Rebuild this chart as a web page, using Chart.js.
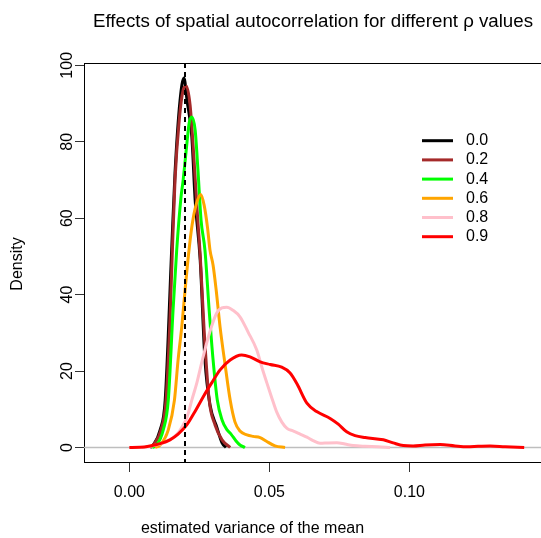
<!DOCTYPE html>
<html>
<head>
<meta charset="utf-8">
<script src="https://cdn.jsdelivr.net/npm/chart.js@4.4.1/dist/chart.umd.min.js"></script>
<style>
  html, body { margin: 0; padding: 0; background: #fff; overflow: hidden; }
  #wrap { width: 541px; height: 538px; }
</style>
</head>
<body>
<div id="wrap"><canvas id="densChart" width="541" height="538"></canvas></div>
<script>
// Données (densités estimées)
const rhoLabels = ['0.0', '0.2', '0.4', '0.6', '0.8', '0.9'];
const rhoColors = ['#000000', '#A52A2A', '#00FF00', '#FFA500', '#FFC0CB', '#FF0000'];

const rho00X = [0.0074, 0.0085, 0.0110, 0.0128, 0.0151, 0.0163, 0.0181, 0.0195, 0.0206, 0.0223, 0.0235, 0.0253, 0.0270, 0.0288, 0.0312, 0.0331, 0.0345];
const rho00Y = [0, 0.65, 4.6, 12.4, 51.6, 71.8, 90.8, 96.7, 90.8, 81.3, 64.7, 49, 22.9, 11.1, 5.4, 1.2, 0];

const rho02X = [0.0074, 0.0088, 0.0113, 0.0131, 0.0145, 0.0153, 0.0163, 0.0178, 0.0192, 0.0203, 0.0217, 0.0231, 0.0242, 0.0253, 0.0267, 0.0285, 0.0306, 0.0331, 0.0360];
const rho02Y = [0, 0.9, 4.6, 12.4, 33.3, 50.3, 69.9, 85.6, 93.5, 94.6, 89.5, 75.2, 62.1, 50.3, 30.7, 12.4, 5.9, 2, 0];

const rho04X = [0.0081, 0.0098, 0.0121, 0.0139, 0.0156, 0.0169, 0.0184, 0.0192, 0.0203, 0.0214, 0.0223, 0.0235, 0.0245, 0.0256, 0.0270, 0.0285, 0.0299, 0.0314, 0.0331, 0.0349, 0.0363, 0.0381, 0.0395, 0.0413];
const rho04Y = [0, 0.65, 4.6, 12.4, 35.9, 51.6, 65.2, 69.9, 77.8, 85.1, 86.5, 83, 72.5, 59.5, 51.6, 35.9, 22.9, 12.4, 7.2, 4.6, 3.5, 1.7, 0.65, 0];

const rho06X = [0.0092, 0.0110, 0.0139, 0.0161, 0.0174, 0.0187, 0.0199, 0.0211, 0.0224, 0.0238, 0.0255, 0.0267, 0.0279, 0.0288, 0.0299, 0.0310, 0.0324, 0.0342, 0.0360, 0.0377, 0.0395, 0.0420, 0.0442, 0.0467, 0.0488, 0.0520, 0.0556];
const rho06Y = [0, 0.65, 4.6, 12.4, 22.9, 31.5, 41.2, 50.3, 58.2, 63.4, 66.2, 63.4, 57.6, 51.6, 47.7, 41.2, 31.5, 21.6, 12.4, 6.7, 4.3, 3.3, 2.9, 2.6, 1.7, 0.4, 0];

const rho08X = [0.0044, 0.0074, 0.0110, 0.0145, 0.0174, 0.0192, 0.0205, 0.0223, 0.0241, 0.0259, 0.0276, 0.0294, 0.0312, 0.0330, 0.0348, 0.0370, 0.0395, 0.0424, 0.0455, 0.0474, 0.0491, 0.0509, 0.0526, 0.0544, 0.0563, 0.0586, 0.0610, 0.0634, 0.0656, 0.0681, 0.0710, 0.0741, 0.0770, 0.0799, 0.0842, 0.0888, 0.0931];
const rho08Y = [0, 0.3, 0.9, 2, 3.8, 5.9, 7.7, 12.4, 16.9, 22.4, 27.3, 31.8, 35.2, 36.5, 36.7, 35.9, 34.2, 30.2, 25.5, 20.8, 16.9, 12.9, 9.3, 6.7, 5, 4.3, 3.5, 2.7, 1.8, 1.1, 1.2, 1.25, 0.9, 0.5, 0.3, 0.2, 0];

const rho09X = [0.0000, 0.0038, 0.0074, 0.0110, 0.0145, 0.0174, 0.0205, 0.0235, 0.0264, 0.0294, 0.0324, 0.0360, 0.0401, 0.0431, 0.0467, 0.0503, 0.0544, 0.0574, 0.0599, 0.0634, 0.0669, 0.0717, 0.0746, 0.0776, 0.0806, 0.0842, 0.0907, 0.0942, 0.0978, 0.1013, 0.1056, 0.1110, 0.1163, 0.1206, 0.1245, 0.1288, 0.1342, 0.1410];
const rho09Y = [0, 0.05, 0.4, 1.0, 2, 3.5, 5.9, 9.5, 13.3, 16.9, 20.3, 22.9, 24.2, 23.7, 22.4, 21.7, 21, 19.5, 16.6, 11.6, 9.4, 7.6, 6.1, 4.1, 3.1, 2.6, 2, 1.2, 0.5, 0.4, 0.65, 0.75, 0.4, 0.2, 0.3, 0.4, 0.2, 0];

const xTicks = [0, 0.05, 0.10];
const yTicks = [0, 20, 40, 60, 80, 100];
const refVariance = 0.02;

const seriesX = [rho00X, rho02X, rho04X, rho06X, rho08X, rho09X];
const seriesY = [rho00Y, rho02Y, rho04Y, rho06Y, rho08Y, rho09Y];

const FONT = "'Liberation Sans', Arial, Helvetica, sans-serif";

document.addEventListener('DOMContentLoaded', function () {
    const datasets = rhoLabels.map((lab, i) => ({
        label: lab,
        data: seriesX[i].map((x, k) => ({ x: x, y: seriesY[i][k] })),
        borderColor: rhoColors[i],
        borderWidth: 3,
        pointRadius: 0,
        fill: false,
        cubicInterpolationMode: 'monotone',
        order: rhoLabels.length - i
    }));

    // Décor façon R : boîte, lignes de référence, titres, légende
    const decor = {
        id: 'decor',
        beforeDatasetsDraw(chart) {
            const { ctx, chartArea: a, scales: { y } } = chart;
            const y0 = y.getPixelForValue(0);
            ctx.save();
            ctx.strokeStyle = '#BEBEBE';
            ctx.lineWidth = 1.5;
            ctx.beginPath();
            ctx.moveTo(a.left, y0);
            ctx.lineTo(a.right, y0);
            ctx.stroke();
            ctx.restore();
        },
        afterDatasetsDraw(chart) {
            const { ctx, chartArea: a, scales: { x } } = chart;
            const xr = Math.round(x.getPixelForValue(refVariance));
            ctx.save();
            ctx.strokeStyle = '#000';
            ctx.lineWidth = 2;
            ctx.setLineDash([5, 4]);
            ctx.beginPath();
            ctx.moveTo(xr, a.top);
            ctx.lineTo(xr, a.bottom);
            ctx.stroke();
            ctx.restore();
        },
        afterDraw(chart) {
            const { ctx, chartArea: a, scales: { y } } = chart;
            ctx.save();
            // haut de la boîte
            ctx.strokeStyle = '#000';
            ctx.lineWidth = 1;
            ctx.beginPath();
            ctx.moveTo(a.left, a.top + 0.5);
            ctx.lineTo(a.right, a.top + 0.5);
            ctx.stroke();

            ctx.fillStyle = '#000';
            ctx.textAlign = 'center';
            ctx.textBaseline = 'middle';
            // titre
            ctx.font = '18.7px ' + FONT;
            ctx.fillText('Effects of spatial autocorrelation for different \u03C1 values', 313, 22);
            // titre axe x
            ctx.font = '16px ' + FONT;
            ctx.fillText('estimated variance of the mean', 252.5, 529);

            // étiquettes y (verticales)
            yTicks.forEach(v => {
                ctx.save();
                ctx.translate(68, y.getPixelForValue(v));
                ctx.rotate(-Math.PI / 2);
                ctx.fillText(String(v), 0, 0);
                ctx.restore();
            });
            ctx.save();
            ctx.translate(18, 264);
            ctx.rotate(-Math.PI / 2);
            ctx.fillText('Density', 0, 0);
            ctx.restore();

            // légende
            ctx.textAlign = 'left';
            rhoLabels.forEach((lab, i) => {
                const ly = 140.7 + i * 19.2;
                ctx.strokeStyle = rhoColors[i];
                ctx.lineWidth = 3;
                ctx.beginPath();
                ctx.moveTo(422, ly);
                ctx.lineTo(453, ly);
                ctx.stroke();
                ctx.fillStyle = '#000';
                ctx.fillText(lab, 466, ly);
            });
            ctx.restore();
        }
    };

    const ctx = document.getElementById('densChart').getContext('2d');
    new Chart(ctx, {
        type: 'line',
        data: { datasets: datasets },
        options: {
            responsive: false,
            animation: false,
            devicePixelRatio: 1,
            layout: { padding: { top: 63, right: 0, left: 0, bottom: 0 } },
            plugins: { legend: { display: false }, tooltip: { enabled: false }, title: { display: false } },
            scales: {
                x: {
                    type: 'linear',
                    min: -0.0162,
                    max: 0.1470,
                    afterBuildTicks: s => { s.ticks = xTicks.map(v => ({ value: v })); },
                    afterFit: s => { s.height = 76; },
                    ticks: {
                        color: '#000',
                        font: { family: FONT, size: 16 },
                        padding: 11,
                        maxRotation: 0,
                        autoSkip: false,
                        callback: v => v.toFixed(2)
                    },
                    grid: { drawOnChartArea: false, drawTicks: true, tickLength: 10, tickColor: '#333', tickWidth: 1 },
                    border: { display: true, color: '#000', width: 1 }
                },
                y: {
                    type: 'linear',
                    min: -3.8,
                    max: 100.6,
                    afterBuildTicks: s => { s.ticks = yTicks.map(v => ({ value: v })); },
                    afterFit: s => { s.width = 84; },
                    ticks: { color: 'rgba(0,0,0,0)', font: { family: FONT, size: 16 }, autoSkip: false },
                    grid: { drawOnChartArea: false, drawTicks: true, tickLength: 9, tickColor: '#333', tickWidth: 1 },
                    border: { display: true, color: '#000', width: 1 }
                }
            }
        },
        plugins: [decor]
    });
});
</script>
</body>
</html>
